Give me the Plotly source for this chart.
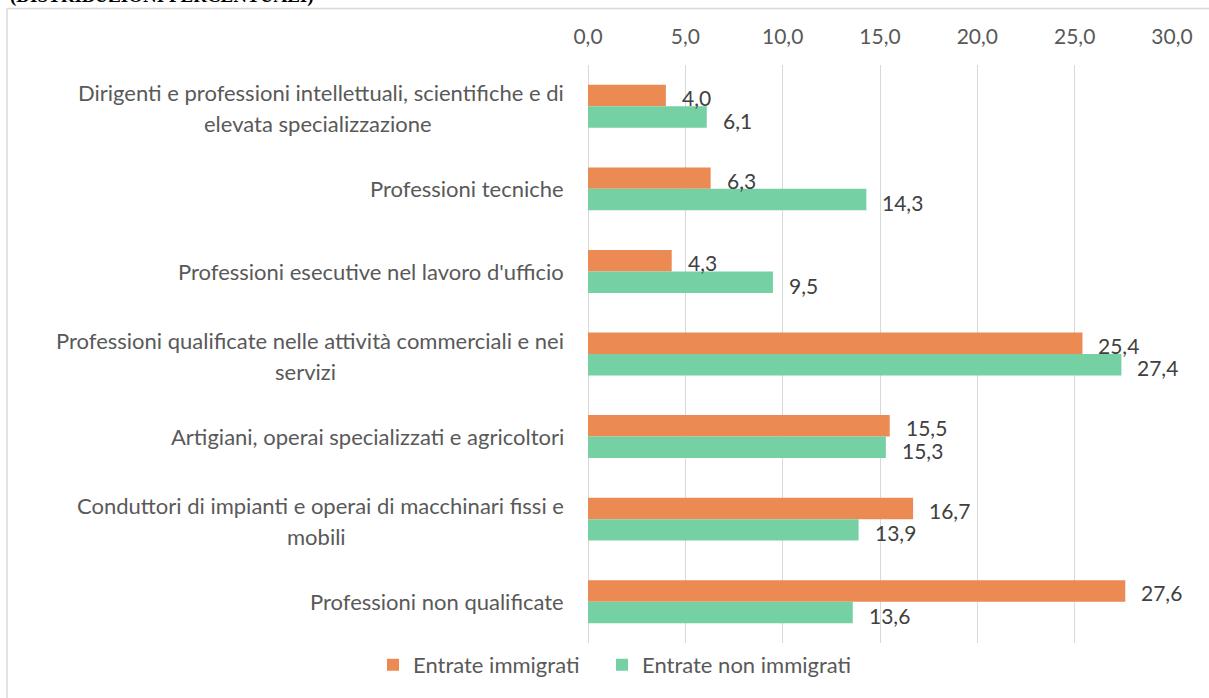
import plotly.graph_objects as go

# ---------------- data ----------------
categories = [
    "Dirigenti e professioni intellettuali, scientifiche e di<br>elevata specializzazione",
    "Professioni tecniche",
    "Professioni esecutive nel lavoro d'ufficio",
    "Professioni qualificate nelle attività commerciali e nei<br>servizi",
    "Artigiani, operai specializzati e agricoltori",
    "Conduttori di impianti e operai di macchinari fissi e<br>mobili",
    "Professioni non qualificate",
]
immigrati = [4.0, 6.3, 4.3, 25.4, 15.5, 16.7, 27.6]
non_immigrati = [6.1, 14.3, 9.5, 27.4, 15.3, 13.9, 13.6]
series_names = ["Entrate immigrati", "Entrate non immigrati"]
tick_values = [0, 5, 10, 15, 20, 25, 30]
tick_labels = ["0,0", "5,0", "10,0", "15,0", "20,0", "25,0", "30,0"]
title_text = "(DISTRIBUZIONI PERCENTUALI)"

# ---------------- layout constants ----------------
W, H = 1209, 698
L, R, T, B = 588, 1172, 65, 647          # plot area in pixels
PW, PH = R - L, B - T

def px_x(p):
    return (p - L) / PW

def px_y(p):
    return (B - p) / PH

FONT = "Lato"
FS_LAB = 22
FS_NUM = 21
ORANGE = "#EB8A53"
GREEN = "#75D0A3"
LABEL_COL = "#595959"
VAL_COL = "#404040"
BW = 0.26

pos = list(range(len(categories)))

fig = go.Figure()
fig.add_trace(go.Bar(
    y=pos, x=immigrati, orientation="h", name=series_names[0],
    marker=dict(color=ORANGE, line=dict(width=0)), width=BW, offset=-BW,
    hoverinfo="x", legend="legend",
))
fig.add_trace(go.Bar(
    y=pos, x=non_immigrati, orientation="h", name=series_names[1],
    marker=dict(color=GREEN, line=dict(width=0)), width=BW, offset=0,
    hoverinfo="x", legend="legend2",
))

annotations = []

def fmt(v):
    return f"{v:.1f}".replace(".", ",")

# value labels
for i, (a, b) in enumerate(zip(immigrati, non_immigrati)):
    annotations.append(dict(x=a, y=i - BW / 2, xref="x", yref="y", text=fmt(a),
                            showarrow=False, xanchor="left", yanchor="middle",
                            xshift=14, yshift=-2,
                            font=dict(family=FONT, size=FS_NUM, color=VAL_COL)))
    annotations.append(dict(x=b, y=i + BW / 2, xref="x", yref="y", text=fmt(b),
                            showarrow=False, xanchor="left", yanchor="middle",
                            xshift=14, yshift=-3,
                            font=dict(family=FONT, size=FS_NUM, color=VAL_COL)))

# category labels (line 2 centred under line 1, like Excel wrapping)
line2_centers = {0: 318, 3: 305.5, 5: 316.5}
label_right = 566
for i, cat in enumerate(categories):
    lines = cat.split("<br>")
    if len(lines) == 1:
        annotations.append(dict(x=px_x(label_right), y=i, xref="paper", yref="y",
                                text=lines[0], showarrow=False, xanchor="right",
                                yanchor="middle",
                                font=dict(family=FONT, size=FS_LAB, color=LABEL_COL)))
    else:
        annotations.append(dict(x=px_x(label_right), y=i, xref="paper", yref="y",
                                text=lines[0], showarrow=False, xanchor="right",
                                yanchor="middle", yshift=14,
                                font=dict(family=FONT, size=FS_LAB, color=LABEL_COL)))
        annotations.append(dict(x=px_x(line2_centers[i]), y=i, xref="paper", yref="y",
                                text=lines[1], showarrow=False, xanchor="center",
                                yanchor="middle", yshift=-17,
                                font=dict(family=FONT, size=FS_LAB, color=LABEL_COL)))

# cut-off title at the very top
annotations.append(dict(x=px_x(8), y=px_y(8.5), xref="paper", yref="paper",
                        text="<b>" + title_text + "</b>", showarrow=False,
                        xanchor="left", yanchor="bottom",
                        font=dict(family="Liberation Serif", size=19, color="#000000")))

shapes = [
    dict(type="line", xref="paper", yref="paper", x0=px_x(7), x1=px_x(W + 5),
         y0=px_y(8), y1=px_y(8), line=dict(color="#D9D9D9", width=1.5)),
    dict(type="line", xref="paper", yref="paper", x0=px_x(7), x1=px_x(7),
         y0=px_y(8), y1=px_y(H + 5), line=dict(color="#D9D9D9", width=1.5)),
]

legend_common = dict(orientation="h", xanchor="left", yanchor="middle",
                     y=px_y(669), itemwidth=30, bgcolor="rgba(0,0,0,0)",
                     font=dict(family=FONT, size=FS_LAB, color=LABEL_COL))

fig.update_layout(
    width=W, height=H,
    margin=dict(l=L, r=W - R, t=T, b=H - B, pad=0),
    paper_bgcolor="white", plot_bgcolor="white",
    separators=",.",
    barmode="overlay",
    showlegend=True,
    legend=dict(x=px_x(373), **legend_common),
    legend2=dict(x=px_x(602), **legend_common),
    xaxis=dict(range=[0, 30], side="top", tickvals=tick_values, ticktext=tick_labels,
               showgrid=True, gridcolor="#D9D9D9", gridwidth=1,
               zeroline=True, zerolinecolor="#D9D9D9", zerolinewidth=1,
               showline=False, ticks="", ticklabelstandoff=16,
               tickfont=dict(family=FONT, size=FS_NUM, color=LABEL_COL),
               fixedrange=True),
    yaxis=dict(range=[len(categories) - 0.5, -0.5], showticklabels=False,
               showgrid=False, zeroline=False, showline=False, ticks="",
               fixedrange=True),
    annotations=annotations,
    shapes=shapes,
)

fig.write_html(
    "out.html",
    config={"displayModeBar": False},
    post_script="document.body.style.margin='0px';document.body.style.overflow='hidden';",
)
